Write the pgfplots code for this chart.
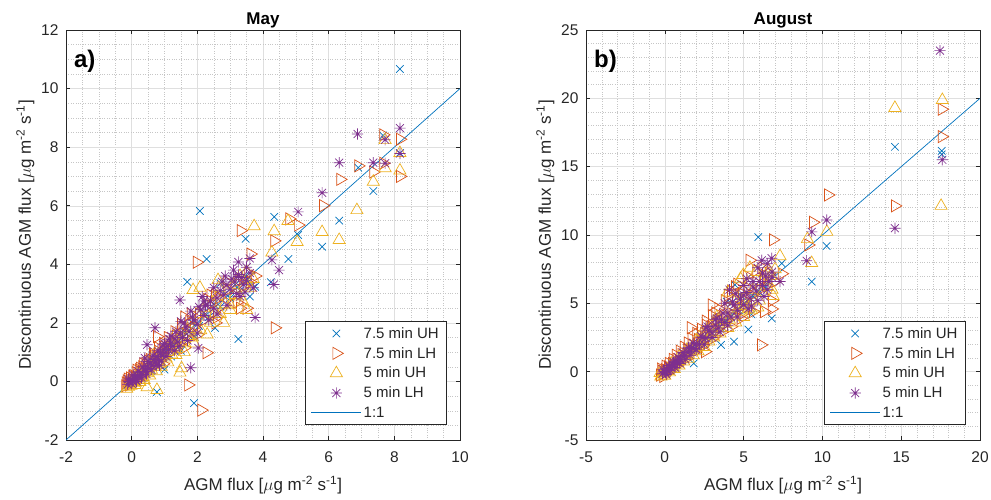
\documentclass[border=0pt]{standalone}
\usepackage{fontspec}
\setmainfont{Liberation Sans}
\usepackage{pgfplots}
\pgfplotsset{compat=1.18}

\definecolor{mblue}{rgb}{0,0.447,0.741}
\definecolor{morange}{rgb}{0.85,0.325,0.098}
\definecolor{myellow}{rgb}{0.929,0.694,0.125}
\definecolor{mpurple}{rgb}{0.494,0.184,0.556}
\definecolor{axcol}{rgb}{0.15,0.15,0.15}

% matlab style '*' marker: + and x together
\pgfdeclareplotmark{star8}{%
  \pgfpathmoveto{\pgfqpoint{-\pgfplotmarksize}{0pt}}\pgfpathlineto{\pgfqpoint{\pgfplotmarksize}{0pt}}%
  \pgfpathmoveto{\pgfqpoint{0pt}{-\pgfplotmarksize}}\pgfpathlineto{\pgfqpoint{0pt}{\pgfplotmarksize}}%
  \pgfpathmoveto{\pgfqpoint{-0.707\pgfplotmarksize}{-0.707\pgfplotmarksize}}\pgfpathlineto{\pgfqpoint{0.707\pgfplotmarksize}{0.707\pgfplotmarksize}}%
  \pgfpathmoveto{\pgfqpoint{-0.707\pgfplotmarksize}{0.707\pgfplotmarksize}}\pgfpathlineto{\pgfqpoint{0.707\pgfplotmarksize}{-0.707\pgfplotmarksize}}%
  \pgfusepathqstroke}

\pgfplotsset{
  mstyle/.style={
    scale only axis, width=394pt, height=410pt,
    axis line style={color=axcol, line width=0.5pt},
    tick style={color=axcol, line width=0.5pt},
    tick align=inside, major tick length=4pt, minor tick length=0pt,
    grid=both,
    major grid style={color=gray!25, line width=0.4pt},
    minor grid style={color=gray!45, dotted, line width=0.4pt},
    ticklabel style={font=\fontsize{15.5}{16}\selectfont, color=axcol},
    xticklabel style={yshift=-8pt},
    yticklabel style={xshift=-4pt},
    /pgf/number format/assume math mode=true,
    label style={font=\fontsize{17}{18}\selectfont, color=axcol},
    xlabel style={at={(axis description cs:0.5,-0.11)}, anchor=center},
    ylabel style={at={(axis description cs:-0.103,0.5)}, anchor=center},
    title style={font=\bfseries\fontsize{17}{18}\selectfont, at={(axis description cs:0.5,1)}, anchor=south, inner sep=0pt, yshift=-4pt},
    xlabel={AGM flux [$\mu$g m\textsuperscript{-2} s\textsuperscript{-1}]},
    ylabel={Discontinuous AGM flux [$\mu$g m\textsuperscript{-2} s\textsuperscript{-1}]},
    legend style={at={(0.967,0.037)}, anchor=south east, draw=axcol, line width=0.5pt,
      fill=white, font=\fontsize{15}{16}\selectfont, text=axcol, row sep=3.5pt,
      inner xsep=6pt, inner ysep=4pt, cells={anchor=west}},
    legend cell align=left,
    legend image code/.code={\draw[mark repeat=2,mark phase=2,#1] plot coordinates {(0pt,0pt)(25pt,0pt)(50pt,0pt)};},
  },
  suh/.style={only marks, mark=x, mark size=5.3pt, color=mblue, line width=0.7pt},
  slh/.style={only marks, mark=triangle, mark size=7pt, mark options={rotate=-90}, color=morange, line width=0.7pt},
  fuh/.style={only marks, mark=triangle, mark size=7pt, color=myellow, line width=0.7pt},
  flh/.style={only marks, mark=star8, mark size=5.6pt, color=mpurple, line width=0.7pt},
}

\begin{document}
\begin{tikzpicture}[x=1pt,y=1pt]
% ---------------- May ----------------
\begin{axis}[mstyle, at={(66pt,59pt)}, anchor=south west,
  title={May},
  xmin=-2, xmax=10, ymin=-2, ymax=12,
  xtick={-2,0,...,10}, ytick={-2,0,...,12}, minor tick num=3]
\addplot[suh] coordinates {
(8.17,10.67)(2.08,5.82)(4.34,5.62)(3.47,4.87)(6.32,5.49)(5.80,4.60)(7.36,6.50)(6.90,7.30)
(8.17,7.80)(5.07,5.00)(2.28,4.18)(4.77,4.18)(1.69,3.40)(3.76,3.23)(3.60,2.90)(3.25,1.45)
(1.90,-0.74)(0.77,-0.36)(2.54,1.83)(1.00,0.40)(1.93,1.52)(2.70,3.35)(7.66,8.40)(4.24,3.39)
(-0.15,-0.12)(-0.05,0.02)(0.02,-0.05)(0.08,0.10)(0.15,0.08)(0.22,0.25)(0.28,0.20)(0.35,0.38)
(0.42,0.35)(0.50,0.52)(0.55,0.45)(0.62,0.65)(0.70,0.62)(0.78,0.82)(0.85,0.75)(0.95,0.98)
(1.05,0.95)(1.15,1.20)(1.25,1.10)(1.35,1.40)(1.45,1.30)(1.60,1.70)(1.75,1.55)(1.85,2.00)
(2.05,1.90)(2.20,2.35)(2.35,2.20)(2.50,2.65)(2.70,2.55)(2.85,3.00)(3.00,2.85)(3.15,3.30)
(3.30,3.10)(3.45,3.60)(3.55,3.40)(0.60,0.35)(1.20,0.85)(1.50,1.05)
};
\addlegendentry{7.5 min UH}
\addplot[slh] coordinates {
(3.32,5.15)(4.34,4.80)(4.80,5.55)(5.07,5.34)(5.83,6.00)(6.35,6.90)(6.90,7.36)(7.36,7.15)
(7.66,8.42)(8.17,8.27)(8.17,7.00)(7.66,7.45)(1.98,4.07)(3.62,4.35)(4.36,1.83)(1.72,-0.12)
(2.12,-0.98)(2.28,0.98)(0.77,1.53)(3.76,3.60)(2.54,2.95)(3.50,2.50)
(-0.20,-0.15)(-0.15,0.02)(-0.10,-0.05)(-0.05,0.12)(0.00,0.05)(0.05,0.20)(0.10,0.12)(0.12,0.30)
(0.18,0.22)(0.22,0.40)(0.28,0.32)(0.32,0.50)(0.38,0.42)(0.42,0.62)(0.48,0.52)(0.55,0.75)
(0.60,0.62)(0.68,0.88)(0.75,0.78)(0.82,1.02)(0.90,0.92)(0.98,1.18)(1.05,1.05)(1.15,1.35)
(1.25,1.25)(1.35,1.55)(1.45,1.45)(1.55,1.85)(1.65,1.60)(1.75,2.05)(1.90,1.85)(2.05,2.30)
(2.20,2.10)(2.35,2.60)(2.50,2.35)(2.65,2.85)(2.80,2.60)(2.95,3.15)(3.10,2.95)(3.25,3.45)
(3.40,3.25)(3.55,3.70)(2.55,2.00)(1.60,1.15)(0.95,0.60)(3.30,2.50)
(-0.18,-0.05)(-0.12,0.08)(-0.08,-0.12)(0.02,0.18)(0.06,-0.02)(0.15,0.38)(0.20,0.05)(0.25,0.45)
(0.30,0.15)(0.35,0.60)(0.45,0.38)(0.50,0.70)(0.58,0.48)(0.65,0.95)(0.70,0.55)(0.80,1.15)
(0.85,0.70)(0.95,1.30)(1.00,0.85)(1.10,1.50)(1.20,1.00)(1.30,1.70)(1.40,1.20)(1.50,1.95)
(1.70,1.45)(1.80,2.30)(2.00,1.60)(2.30,2.80)(2.60,2.20)(2.90,3.40)(3.20,2.70)(3.60,3.40)
(2.40,2.95)(1.60,2.20)
};
\addlegendentry{7.5 min LH}
\addplot[fuh] coordinates {
(3.73,5.30)(4.34,5.13)(4.76,5.48)(5.04,4.76)(5.80,5.10)(6.32,4.83)(6.86,5.85)(7.36,6.82)
(7.72,7.28)(7.72,8.24)(8.17,7.80)(8.17,7.20)(4.27,4.40)(0.77,-0.29)(1.47,0.30)(0.47,-0.20)
(2.08,3.20)(2.63,3.46)(3.00,2.44)(3.50,2.44)(1.87,3.12)(1.52,0.45)
(-0.10,-0.18)(-0.05,-0.08)(0.02,-0.02)(0.08,0.02)(0.12,-0.05)(0.18,0.10)(0.22,0.05)(0.28,0.20)
(0.35,0.15)(0.40,0.32)(0.48,0.28)(0.52,0.45)(0.60,0.40)(0.65,0.58)(0.72,0.50)(0.80,0.70)
(0.88,0.62)(0.95,0.85)(1.05,0.78)(1.12,1.00)(1.22,0.92)(1.30,1.18)(1.40,1.10)(1.50,1.35)
(1.62,1.30)(1.72,1.55)(1.85,1.50)(1.95,1.80)(2.10,1.75)(2.25,2.05)(2.40,2.00)(2.55,2.35)
(2.70,2.30)(2.85,2.65)(3.00,2.60)(3.15,2.95)(3.30,2.90)(3.45,3.25)(3.60,3.20)(3.50,3.75)
(2.65,3.20)(2.00,2.30)(1.30,1.55)(0.70,0.95)
(-0.15,-0.25)(-0.02,-0.15)(0.10,-0.12)(0.15,0.20)(0.25,-0.02)(0.30,0.30)(0.38,0.05)(0.45,0.42)
(0.55,0.20)(0.62,0.55)(0.75,0.35)(0.82,0.82)(0.90,0.50)(1.00,1.00)(1.10,0.65)(1.20,1.25)
(1.35,0.90)(1.45,1.50)(1.60,1.00)(1.70,1.80)(1.90,1.30)(2.20,2.50)(2.30,1.60)(2.60,2.90)
(2.80,2.00)(3.10,3.30)(3.40,2.70)(3.70,3.50)(3.30,3.60)(2.45,2.70)
};
\addlegendentry{5 min UH}
\addplot[flh] coordinates {
(5.07,5.79)(5.80,6.44)(6.32,7.47)(6.88,8.45)(7.36,7.47)(7.72,7.45)(7.72,8.25)(8.17,8.65)
(8.17,7.78)(4.49,3.80)(4.33,3.31)(3.76,2.18)(3.25,4.08)(3.60,4.20)(4.27,4.15)(0.71,1.83)
(0.47,1.25)(1.80,0.47)(2.03,1.14)(1.47,2.78)(3.25,3.58)
(-0.12,-0.10)(-0.08,0.00)(-0.02,0.06)(0.03,0.00)(0.08,0.12)(0.12,0.06)(0.18,0.20)(0.22,0.14)
(0.28,0.30)(0.32,0.24)(0.38,0.42)(0.42,0.34)(0.48,0.52)(0.52,0.44)(0.58,0.62)(0.62,0.55)
(0.68,0.75)(0.72,0.66)(0.78,0.85)(0.82,0.76)(0.88,0.98)(0.92,0.88)(0.98,1.08)(1.02,0.98)
(1.08,1.20)(1.12,1.08)(1.18,1.30)(1.25,1.20)(1.32,1.45)(1.40,1.35)(1.48,1.65)(1.55,1.50)
(1.65,1.85)(1.75,1.70)(1.90,2.10)(2.00,1.95)(2.10,2.45)(2.20,2.25)(2.30,2.60)(2.40,2.75)
(2.50,2.50)(2.60,2.85)(2.70,3.10)(2.80,2.95)(2.90,3.30)(3.00,3.15)(3.05,3.50)(3.15,3.40)
(3.25,3.65)(3.35,3.55)(3.40,3.30)(3.50,3.45)(3.60,3.70)(3.20,3.00)(2.20,2.75)(2.05,2.55)
(1.85,2.20)(1.20,1.55)(1.00,1.30)(0.85,0.55)(0.40,0.80)(1.50,2.05)
(-0.10,0.08)(0.00,-0.08)(0.05,0.22)(0.15,0.00)(0.20,0.35)(0.30,0.12)(0.35,0.50)(0.45,0.25)
(0.50,0.68)(0.60,0.40)(0.65,0.88)(0.75,0.55)(0.80,1.05)(0.90,0.70)(0.95,1.25)(1.05,0.85)
(1.15,1.45)(1.30,1.05)(1.35,1.70)(1.45,1.20)(1.60,2.00)(1.70,1.40)(1.80,2.40)(2.00,1.65)
(2.15,2.90)(2.35,2.10)(2.50,3.20)(2.60,2.30)(2.75,3.40)(2.90,2.60)(3.10,3.80)(3.30,2.90)
(3.50,3.90)(3.70,3.20)(2.25,2.60)(2.85,3.60)(3.45,3.05)
};
\addlegendentry{5 min LH}
\addplot[mblue, line width=0.7pt, no marks] coordinates {(-2,-2)(10,10)};
\addlegendentry{1:1}
\node[font=\bfseries\fontsize{24}{24}\selectfont, anchor=north west, inner sep=0pt] at (rel axis cs:0.02,0.951) {a)};
\end{axis}

% ---------------- August ----------------
\begin{axis}[mstyle, at={(586pt,59pt)}, anchor=south west,
  title={August},
  xmin=-5, xmax=20, ymin=-5, ymax=25,
  xtick={-5,0,...,20}, ytick={-5,0,...,25}, minor tick num=4,
  legend style={at={(0.964,0.037)}}]
\addplot[suh] coordinates {
(14.60,16.45)(17.57,16.15)(17.57,15.90)(10.27,9.20)(5.93,9.85)(9.32,6.59)(6.78,3.90)(4.39,2.20)
(3.57,1.96)(1.84,0.61)(5.30,3.08)(7.42,7.93)(4.45,6.35)(3.93,5.13)
(-0.10,-0.10)(0.10,0.05)(0.30,0.25)(0.50,0.40)(0.70,0.65)(0.90,0.80)(1.10,1.05)(1.30,1.15)
(1.50,1.45)(1.70,1.55)(2.00,1.90)(2.30,2.10)(2.60,2.50)(2.90,2.70)(3.20,3.10)(3.50,3.30)
(3.80,3.70)(4.10,3.90)(4.40,4.30)(4.70,4.50)(5.00,4.90)(5.30,5.10)(5.60,5.50)(6.00,5.80)
(6.40,6.20)(4.20,5.00)(4.80,5.60)(5.50,4.20)
};
\addlegendentry{7.5 min UH}
\addplot[slh] coordinates {
(17.57,19.20)(17.57,17.20)(14.60,12.13)(10.36,12.93)(9.40,10.93)(6.86,9.65)(5.38,8.15)(6.10,1.96)
(2.55,1.47)(1.65,3.22)(6.78,4.59)(7.42,7.17)(9.10,9.27)(4.45,6.22)(2.98,4.88)
(-0.30,-0.25)(-0.20,0.05)(-0.10,-0.15)(0.00,0.15)(0.10,0.00)(0.20,0.35)(0.30,0.20)(0.45,0.60)
(0.60,0.45)(0.75,0.90)(0.90,0.75)(1.05,1.25)(1.20,1.05)(1.40,1.60)(1.55,1.40)(1.75,1.95)
(1.90,1.75)(2.10,2.35)(2.30,2.10)(2.50,2.80)(2.70,2.50)(2.90,3.30)(3.10,2.90)(3.30,3.70)
(3.50,3.30)(3.70,4.20)(3.90,3.80)(4.10,4.70)(4.30,4.20)(4.50,5.20)(4.70,4.70)(4.90,5.70)
(5.10,5.20)(5.30,6.10)(5.50,5.60)(5.80,6.50)(6.00,6.00)(6.30,6.80)(6.50,6.30)(6.80,5.20)
(3.20,4.30)(2.60,3.40)(4.00,5.60)(5.00,4.30)
(-0.25,0.20)(0.05,0.40)(0.25,0.60)(0.50,0.90)(0.70,1.20)(0.95,1.50)(1.20,1.80)(1.45,2.10)
(1.70,2.40)(2.00,2.80)(2.30,3.10)(2.60,3.70)(3.00,4.10)(3.40,4.60)(3.80,5.20)(4.20,5.90)
(4.60,6.40)(5.20,7.00)(5.80,7.40)(6.20,7.60)(-0.10,-0.35)(0.40,0.10)(0.80,0.50)(1.30,0.90)
(1.80,1.40)(2.40,1.90)(3.00,2.40)(3.60,2.90)(4.20,3.30)(4.80,3.90)(5.60,4.40)(6.30,4.40)
(6.60,7.20)(7.00,6.60)
};
\addlegendentry{7.5 min LH}
\addplot[fuh] coordinates {
(17.61,19.88)(14.60,19.30)(17.53,12.13)(10.28,10.23)(9.05,9.70)(9.32,7.95)(6.87,5.54)(7.31,8.45)
(4.98,7.08)
(-0.25,-0.35)(-0.10,-0.20)(0.05,-0.05)(0.20,0.05)(0.35,0.20)(0.50,0.30)(0.65,0.50)(0.80,0.60)
(0.95,0.80)(1.10,0.90)(1.30,1.10)(1.50,1.25)(1.70,1.50)(1.90,1.65)(2.10,1.90)(2.30,2.00)
(2.60,2.30)(2.90,2.60)(3.20,2.90)(3.50,3.20)(3.80,3.50)(4.10,3.80)(4.40,4.10)(4.70,4.40)
(5.00,4.80)(5.30,4.60)(5.60,5.20)(5.90,4.70)(6.20,5.80)(6.50,6.20)(6.70,7.00)(6.30,7.20)
(5.00,6.00)(4.50,5.20)(3.30,4.00)(2.40,2.90)(5.80,7.30)(6.60,7.40)
(-0.30,-0.10)(0.00,-0.30)(0.30,-0.05)(0.60,0.20)(0.90,0.45)(1.20,0.75)(1.50,0.95)(1.80,1.20)
(2.10,1.50)(2.50,1.80)(2.80,2.20)(3.10,2.50)(3.50,2.80)(4.00,3.20)(4.50,3.60)(5.00,4.00)
(5.50,4.50)(6.00,5.20)(6.80,6.00)(0.40,0.60)(0.90,1.10)(1.40,1.60)(2.00,2.30)(2.70,3.10)
(3.40,3.80)(4.20,4.60)(4.90,5.30)(5.60,6.00)(6.20,6.60)(7.00,7.50)(4.00,5.80)(4.80,6.80)
(5.40,7.60)
};
\addlegendentry{5 min UH}
\addplot[flh] coordinates {
(17.46,23.49)(17.61,15.50)(14.60,10.50)(10.27,11.10)(9.32,10.23)(9.00,8.11)(7.31,6.60)(6.78,8.30)
(6.15,8.15)
(-0.15,-0.15)(-0.05,0.00)(0.05,-0.05)(0.10,0.12)(0.20,0.10)(0.30,0.32)(0.40,0.28)(0.50,0.52)
(0.60,0.50)(0.70,0.72)(0.80,0.70)(0.90,0.95)(1.00,0.90)(1.10,1.15)(1.25,1.15)(1.40,1.45)
(1.55,1.45)(1.70,1.75)(1.85,1.70)(2.00,2.05)(2.20,2.00)(2.40,2.50)(2.60,2.45)(2.80,3.00)
(3.00,2.85)(3.20,3.40)(3.40,3.20)(3.60,3.80)(3.80,3.60)(4.00,4.30)(4.20,4.00)(4.40,4.90)
(4.60,4.50)(4.80,5.30)(5.00,4.90)(5.20,5.80)(5.40,5.40)(5.60,6.20)(5.80,5.90)(6.00,6.60)
(6.20,6.30)(6.40,7.00)(6.60,6.60)(6.80,7.30)(4.50,5.70)(5.00,6.30)(5.50,4.80)(3.30,3.90)
(2.60,3.20)(6.30,5.50)(5.90,7.60)(6.50,7.90)
(-0.10,0.15)(0.10,-0.20)(0.25,0.45)(0.35,0.10)(0.55,0.70)(0.65,0.30)(0.85,1.05)(0.95,0.60)
(1.15,1.40)(1.30,0.90)(1.50,1.75)(1.60,1.20)(1.80,2.10)(2.00,1.60)(2.30,2.60)(2.50,2.00)
(2.70,3.30)(3.00,2.50)(3.20,3.80)(3.50,2.90)(3.70,4.30)(4.00,3.40)(4.30,5.10)(4.60,4.00)
(5.00,5.60)(5.30,4.60)(5.60,6.60)(5.90,5.20)(6.20,7.20)(6.50,6.00)(6.80,6.90)(4.10,6.00)
(3.80,5.00)(5.20,6.80)
};
\addlegendentry{5 min LH}
\addplot[mblue, line width=0.7pt, no marks] coordinates {(0,0)(20,20)};
\addlegendentry{1:1}
\node[font=\bfseries\fontsize{24}{24}\selectfont, anchor=north west, inner sep=0pt] at (rel axis cs:0.02,0.951) {b)};
\end{axis}
\pgfresetboundingbox
\path[use as bounding box] (0pt,0pt) rectangle (991pt,499pt);
\end{tikzpicture}
\end{document}
